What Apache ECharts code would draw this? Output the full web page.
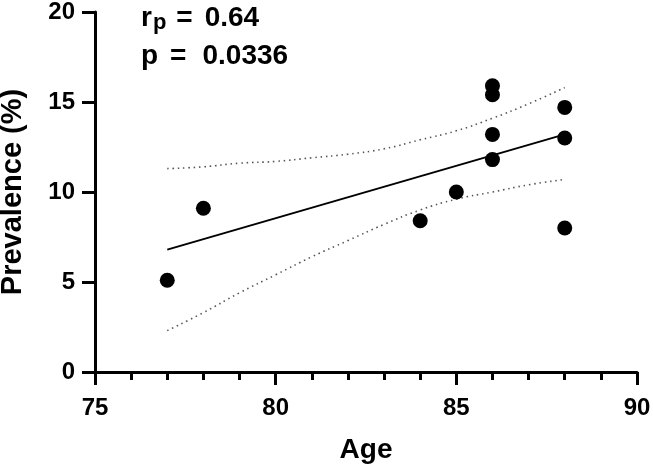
<!DOCTYPE html>
<html><head><meta charset="utf-8">
<script src="https://cdn.jsdelivr.net/npm/echarts@6/dist/echarts.min.js"></script>
<style>html,body{margin:0;padding:0;background:#fff}#c{width:653px;height:470px}</style>
</head><body><div id="c"></div>
<script>
// Observed data points (Age, Prevalence %)
const ages = [77, 78, 84, 85, 86, 86, 86, 86, 88, 88, 88];
const prevalence = [5.1, 9.1, 8.4, 10.0, 15.9, 15.4, 13.2, 11.8, 14.7, 13.0, 8.0];
// Regression line endpoints
const fitAges = [77, 88];
const fitValues = [6.8, 13.2];
// Confidence band values
const bandAges = [77, 78, 79, 80, 81, 82, 83, 84, 85, 86, 87, 88];
const bandUpper = [11.3, 11.4, 11.6, 11.7, 11.9, 12.1, 12.4, 12.9, 13.4, 14.1, 14.9, 15.8];
const bandLower = [2.3, 3.3, 4.4, 5.4, 6.4, 7.3, 8.2, 9.0, 9.6, 10.0, 10.4, 10.7];
const xTicks = [75, 80, 85, 90];
const yTicks = [0, 5, 10, 15, 20];
const statR = '0.64';
const statP = '0.0336';

const FONT = '"Liberation Sans", Arial, Helvetica, sans-serif';
const pts = ages.map((a, i) => [a, prevalence[i]]);
const fit = fitAges.map((a, i) => [a, fitValues[i]]);
const up = bandAges.map((a, i) => [a, bandUpper[i]]);
const lo = bandAges.map((a, i) => [a, bandLower[i]]);

const chart = echarts.init(document.getElementById('c'), null, {renderer: 'canvas'});
const axisCommon = {
  axisLine: {show: true, onZero: false, lineStyle: {color: '#000', width: 3}},
  axisTick: {show: true, inside: false, length: 13, lineStyle: {color: '#000', width: 3}},
  splitLine: {show: false},
  axisLabel: {color: '#000', fontSize: 24, fontWeight: 'bold', fontFamily: FONT},
  nameTextStyle: {color: '#000', fontSize: 29, fontWeight: 'bold', fontFamily: FONT}
};
const richBase = {fontWeight: 'bold', fontFamily: FONT, fill: '#000', lineHeight: 38};
chart.setOption({
  animation: false,
  backgroundColor: '#fff',
  grid: {left: 95, right: 16, top: 12, bottom: 98, containLabel: false, outerBoundsMode: 'none'},
  xAxis: Object.assign({}, axisCommon, {
    type: 'value', min: xTicks[0], max: xTicks[xTicks.length - 1], interval: 5,
    name: 'Age', nameLocation: 'middle', nameGap: 64,
    nameTextStyle: Object.assign({}, axisCommon.nameTextStyle, {fontSize: 28}),
    minorTick: {show: true, splitNumber: 5, length: 8, lineStyle: {color: '#000', width: 3}},
    axisLabel: Object.assign({}, axisCommon.axisLabel, {margin: 24})
  }),
  yAxis: Object.assign({}, axisCommon, {
    type: 'value', min: yTicks[0], max: yTicks[yTicks.length - 1], interval: 5,
    name: 'Prevalence (%)', nameLocation: 'middle', nameGap: 68,
    axisLabel: Object.assign({}, axisCommon.axisLabel, {margin: 20})
  }),
  graphic: [{
    type: 'text', left: 141, top: 2,
    style: {
      text: '{a|r}{s|p}{e|=}{a|' + statR + '}\n{a|p}{f|=}{a|' + statP + '}',
      rich: {
        a: Object.assign({fontSize: 28}, richBase),
        s: Object.assign({fontSize: 22, padding: [10, 0, 0, 1]}, richBase),
        e: Object.assign({fontSize: 28, padding: [0, 12, 0, 10]}, richBase),
        f: Object.assign({fontSize: 28, padding: [0, 16, 0, 12]}, richBase)
      }
    }
  }],
  series: [
    {type: 'line', data: up, symbol: 'none', smooth: true, lineStyle: {color: '#555', width: 1.6, type: [1.5, 3.8]}, z: 2},
    {type: 'line', data: lo, symbol: 'none', smooth: true, lineStyle: {color: '#555', width: 1.6, type: [1.5, 3.8]}, z: 2},
    {type: 'line', data: fit, symbol: 'none', lineStyle: {color: '#000', width: 2}, z: 3},
    {type: 'scatter', data: pts, symbol: 'circle', symbolSize: 15, itemStyle: {color: '#000', opacity: 1}, z: 4}
  ]
});
</script></body></html>
